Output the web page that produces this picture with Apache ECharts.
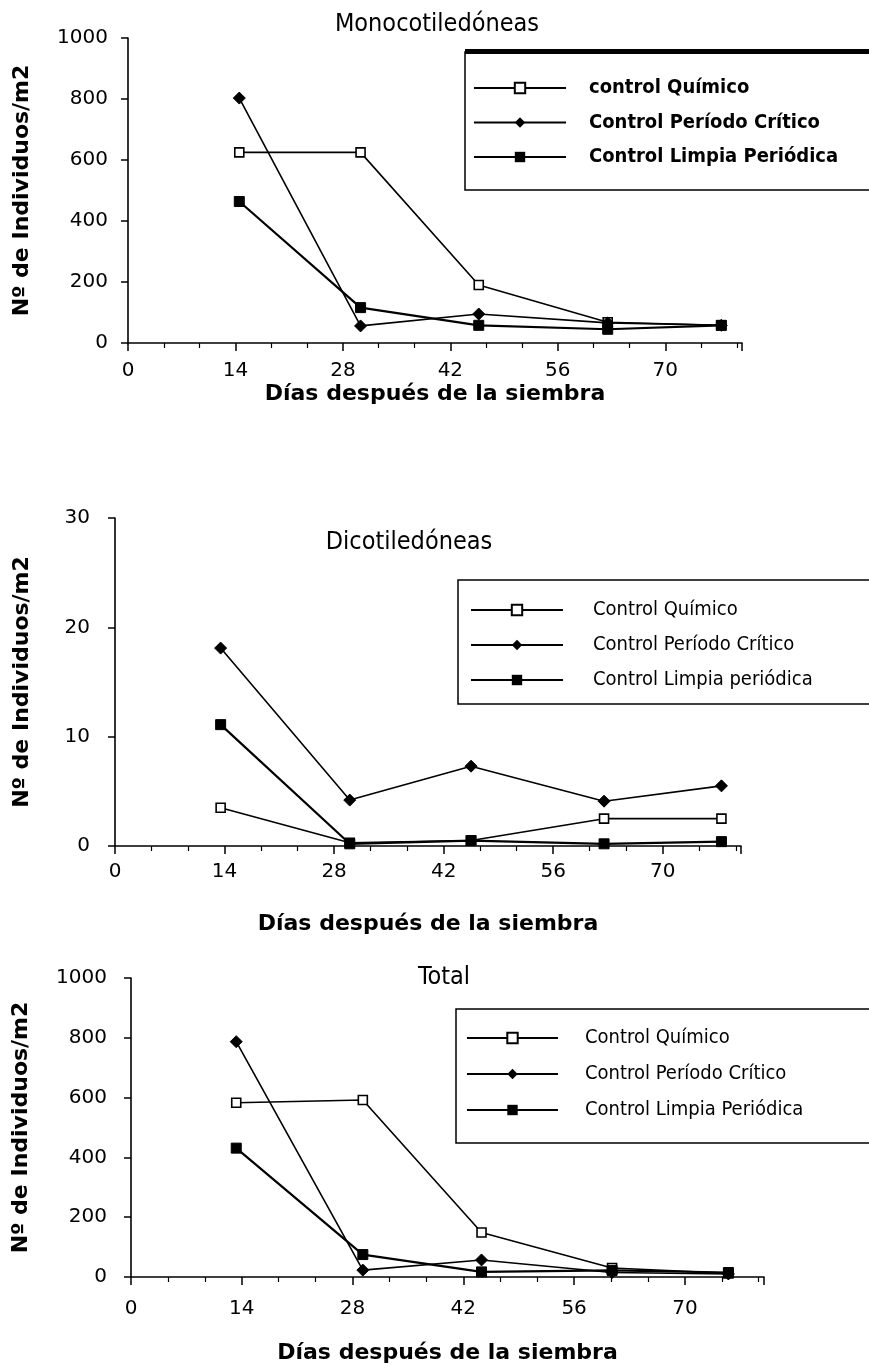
<!DOCTYPE html>
<html><head><meta charset="utf-8">
<script src="https://cdn.jsdelivr.net/npm/echarts@6/dist/echarts.min.js"></script>
<style>html,body{margin:0;padding:0;background:#fff}#c{width:869px;height:1366px}</style>
</head><body><div id="c"></div><script>
// ---- data ----
const xTicks = [0, 14, 28, 42, 56, 70];
const seriesNamesMono = ['control Químico', 'Control Período Crítico', 'Control Limpia Periódica'];
const seriesNamesDico = ['Control Químico', 'Control Período Crítico', 'Control Limpia periódica'];
const seriesNamesTotal = ['Control Químico', 'Control Período Crítico', 'Control Limpia Periódica'];

const daysMono = [14.5, 30.3, 45.7, 62.5, 77.3];
const monoQuimico = [625, 625, 190, 68, 58];
const monoPeriodo = [803, 56, 95, 66, 58];
const monoLimpia = [464, 116, 58, 45, 58];

const daysDico = [13.5, 30, 45.5, 62.5, 77.5];
const dicoQuimico = [3.5, 0.3, 0.5, 2.5, 2.5];
const dicoPeriodo = [18.1, 4.2, 7.3, 4.1, 5.5];
const dicoLimpia = [11.1, 0.2, 0.5, 0.2, 0.4];

const daysTotal = [13.3, 29.3, 44.3, 60.8, 75.5];
const totQuimico = [583, 592, 149, 30, 12];
const totPeriodo = [787, 23, 57, 15, 10];
const totLimpia = [431, 75, 17, 22, 15];

const titles = ['Monocotiledóneas', 'Dicotiledóneas', 'Total'];
const xName = 'Días después de la siembra';
const yName = 'Nº de Individuos/m2';

// ---- styles ----
const NUM = "'DejaVu Sans', sans-serif";
const NARROW = "'Liberation Sans Narrow', 'DejaVu Sans Condensed', sans-serif";
const BOLD = "'DejaVu Sans', sans-serif";

const grids = [
  {left: 128, top: 38, width: 614, height: 305},
  {left: 115, top: 518, width: 626, height: 328},
  {left: 131, top: 978, width: 633, height: 299}
];
const yMax = [1000, 30, 1000];
const yInt = [200, 10, 200];
const yNameGap = [95, 82, 99];
const yLabelMargin = [20, 25, 24];
const xNameGap = [40, 67, 65];
const xLabelMargin = [18, 16, 22];

function xAxis(i) {
  return {
    type: 'value', gridIndex: i, min: 0, max: 80, interval: 14,
    axisLine: {show: true, onZero: false, lineStyle: {color: '#000', width: 1.6}},
    axisTick: {show: true, length: 8, lineStyle: {color: '#000', width: 1.5}},
    minorTick: {show: true, splitNumber: 3, length: 5, lineStyle: {color: '#000', width: 1.2}},
    splitLine: {show: false},
    axisLabel: {margin: xLabelMargin[i], fontSize: 20, color: '#000', fontFamily: NUM,
      formatter: v => (xTicks.indexOf(v) >= 0 ? String(v) : '')},
    name: xName, nameLocation: 'middle', nameGap: xNameGap[i],
    nameTextStyle: {fontSize: 22, fontWeight: 'bold', color: '#000', fontFamily: BOLD}
  };
}
function yAxis(i) {
  return {
    type: 'value', gridIndex: i, min: 0, max: yMax[i], interval: yInt[i],
    axisLine: {show: true, onZero: false, lineStyle: {color: '#000', width: 1.6}},
    axisTick: {show: true, length: 7, lineStyle: {color: '#000', width: 1.5}},
    splitLine: {show: false},
    axisLabel: {margin: yLabelMargin[i], fontSize: 20, color: '#000', fontFamily: NUM,
      formatter: v => String(v)},
    name: yName, nameLocation: 'middle', nameGap: yNameGap[i], nameRotate: 90,
    nameTextStyle: {fontSize: 22, fontWeight: 'bold', color: '#000', fontFamily: BOLD}
  };
}
function mk(name, gi, days, vals, kind) {
  const s = {
    name, type: 'line', xAxisIndex: gi, yAxisIndex: gi,
    data: days.map((d, k) => [d, vals[k]]),
    showAllSymbol: true, animation: false, z: 3,
    lineStyle: {color: '#000', width: 1.6},
    itemStyle: {color: '#000', borderColor: '#000'}
  };
  if (kind === 'q') { s.symbol = 'rect'; s.symbolSize = 9; s.itemStyle = {color: '#fff', borderColor: '#000', borderWidth: 1.6}; }
  if (kind === 'p') { s.symbol = 'diamond'; s.symbolSize = 12; }
  if (kind === 'l') { s.symbol = 'rect'; s.symbolSize = 10; s.lineStyle.width = 2.2; }
  return s;
}

const series = [
  mk(seriesNamesMono[0], 0, daysMono, monoQuimico, 'q'),
  mk(seriesNamesMono[1], 0, daysMono, monoPeriodo, 'p'),
  mk(seriesNamesMono[2], 0, daysMono, monoLimpia, 'l'),
  mk(seriesNamesDico[0], 1, daysDico, dicoQuimico, 'q'),
  mk(seriesNamesDico[1], 1, daysDico, dicoPeriodo, 'p'),
  mk(seriesNamesDico[2], 1, daysDico, dicoLimpia, 'l'),
  mk(seriesNamesTotal[0], 2, daysTotal, totQuimico, 'q'),
  mk(seriesNamesTotal[1], 2, daysTotal, totPeriodo, 'p'),
  mk(seriesNamesTotal[2], 2, daysTotal, totLimpia, 'l')
];

function legend(names, left, top, gap, bold, w, pad) {
  return {
    data: names, orient: 'vertical', left, top, itemWidth: w, itemHeight: 13, itemGap: gap,
    selectedMode: false,
    textStyle: {fontSize: 20, fontWeight: bold ? 'bold' : 'normal', color: '#000', fontFamily: NARROW,
      padding: [0, 0, 0, pad], lineHeight: 20}
  };
}

const option = {
  backgroundColor: '#fff',
  animation: false,
  title: [
    {text: titles[0], left: 432, top: 7, textAlign: 'center', textStyle: {fontSize: 25, fontWeight: 'normal', color: '#000', fontFamily: NARROW}},
    {text: titles[1], left: 404, top: 525, textAlign: 'center', textStyle: {fontSize: 25, fontWeight: 'normal', color: '#000', fontFamily: NARROW}},
    {text: titles[2], left: 439, top: 960, textAlign: 'center', textStyle: {fontSize: 25, fontWeight: 'normal', color: '#000', fontFamily: NARROW}}
  ],
  grid: grids.map(g => Object.assign({containLabel: false, outerBoundsMode: 'none'}, g)),
  xAxis: [0, 1, 2].map(xAxis),
  yAxis: [0, 1, 2].map(yAxis),
  legend: [
    legend(seriesNamesMono, 468, 73, 14.5, true, 92, 18),
    legend(seriesNamesDico, 465, 595, 15, false, 92, 25),
    legend(seriesNamesTotal, 461, 1023, 16, false, 91, 22)
  ],
  graphic: [
    {type: 'rect', shape: {x: 465, y: 52, width: 420, height: 138}, style: {fill: null, stroke: '#000', lineWidth: 1.5}, silent: true},
    {type: 'rect', shape: {x: 465, y: 49, width: 404, height: 5}, style: {fill: '#000'}, silent: true},
    {type: 'rect', shape: {x: 458, y: 580, width: 420, height: 124}, style: {fill: null, stroke: '#000', lineWidth: 1.5}, silent: true},
    {type: 'rect', shape: {x: 456, y: 1009, width: 420, height: 134}, style: {fill: null, stroke: '#000', lineWidth: 1.5}, silent: true}
  ],
  series
};
const chart = echarts.init(document.getElementById('c'), null, {renderer: 'canvas'});
chart.setOption(option);
</script></body></html>
